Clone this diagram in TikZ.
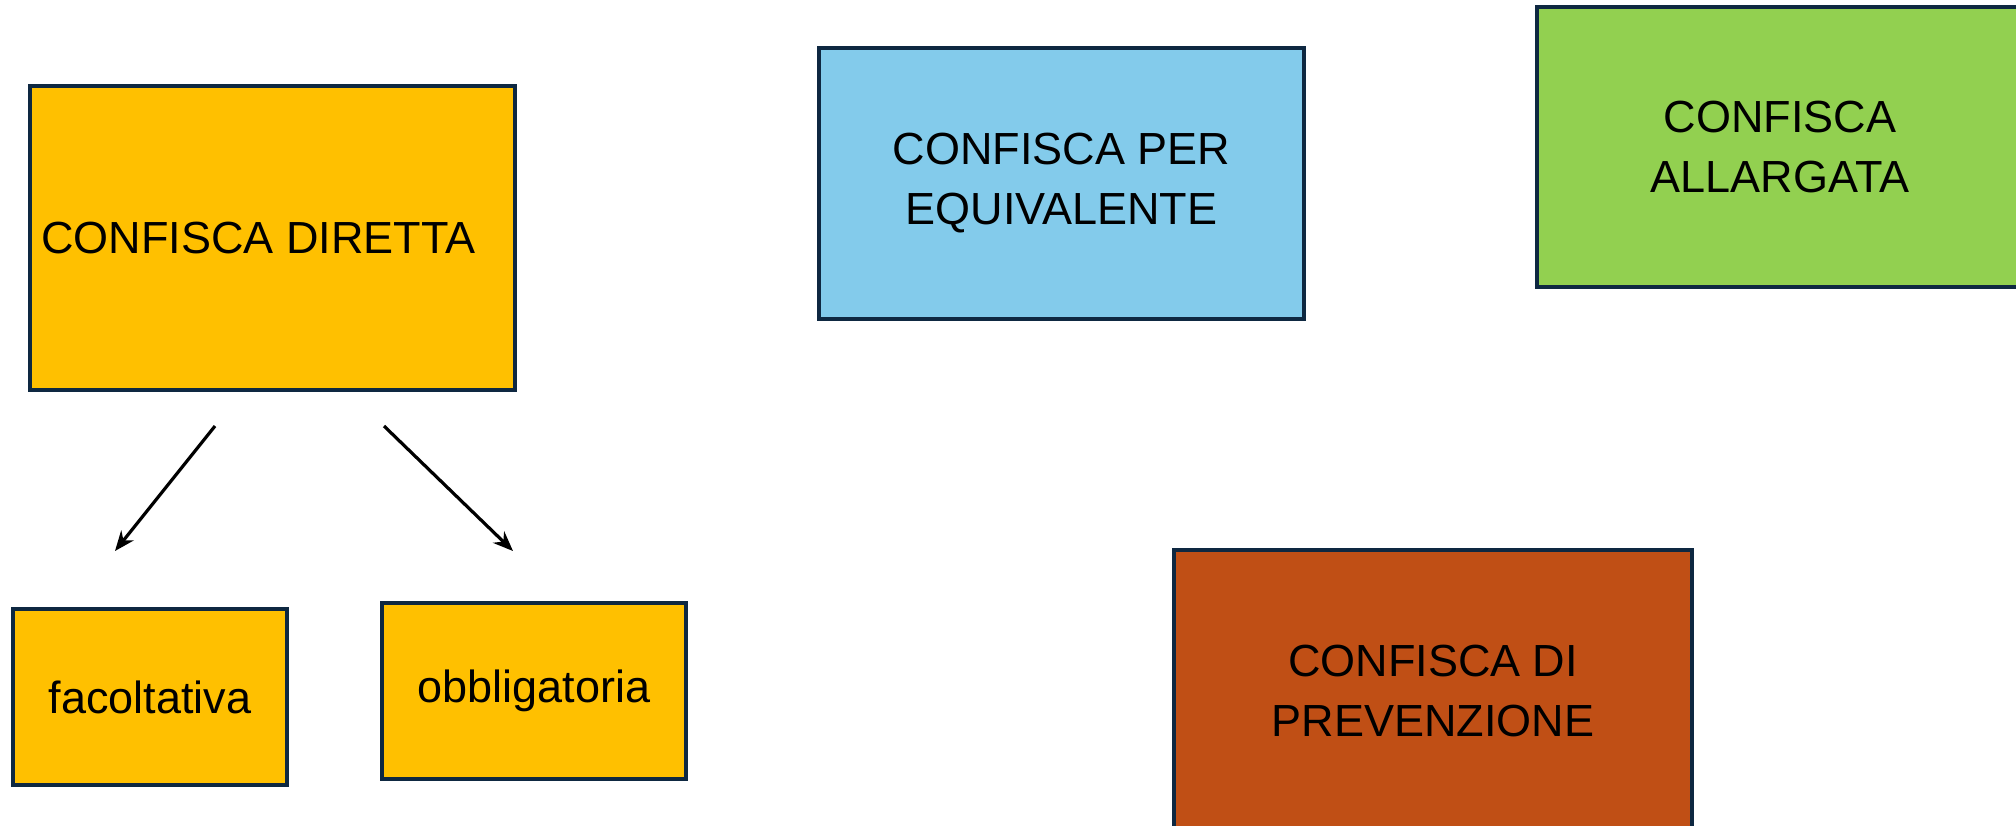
\documentclass[tikz,border=0pt]{standalone}
\usepackage{fontspec}
\setmainfont{Liberation Sans}
\usetikzlibrary{arrows.meta}
\definecolor{boxline}{HTML}{0E2841}
\definecolor{cOrange}{HTML}{FFC000}
\definecolor{cBlue}{HTML}{83CBEB}
\definecolor{cGreen}{HTML}{92D050}
\definecolor{cRed}{HTML}{C04F15}
\begin{document}
\begin{tikzpicture}[x=0.5pt,y=-0.5pt,
  cbox/.style={draw=boxline,line width=1.8pt,inner sep=0pt,align=center,
    font=\fontsize{22.5}{30}\selectfont},
  arr/.style={line width=1.6pt,-{Stealth[length=10pt,width=8pt]}}]
\useasboundingbox (0,0) rectangle (2016,825);
\begin{scope}
\clip (0,0) rectangle (2016,825);
\node[cbox,fill=cOrange,minimum width=242.5pt,minimum height=152pt] (diretta) at (272.5,238) {CONFISCA DIRETTA\kern14pt\null};
\node[cbox,fill=cBlue,minimum width=242.5pt,minimum height=135.5pt] (equiv) at (1061.5,183.5) {CONFISCA PER\\EQUIVALENTE};
\node[cbox,fill=cGreen,minimum width=243pt,minimum height=140pt] (allarg) at (1780,147) {CONFISCA\\ALLARGATA};
\node[cbox,fill=cRed,minimum width=259pt,minimum height=141pt] (prev) at (1433,691) {CONFISCA DI\\PREVENZIONE};
\node[cbox,fill=cOrange,minimum width=137pt,minimum height=88pt] (facolt) at (150,697) {facoltativa};
\node[cbox,fill=cOrange,minimum width=152pt,minimum height=88pt] (obblig) at (534,691) {obbligatoria};
\end{scope}
\coordinate (a1s) at (215,426);
\coordinate (a1e) at (115,551);
\coordinate (a2s) at (384,426);
\coordinate (a2e) at (513,551);
\draw[arr] (a1s) -- (a1e);
\draw[arr] (a2s) -- (a2e);
\end{tikzpicture}
\end{document}
